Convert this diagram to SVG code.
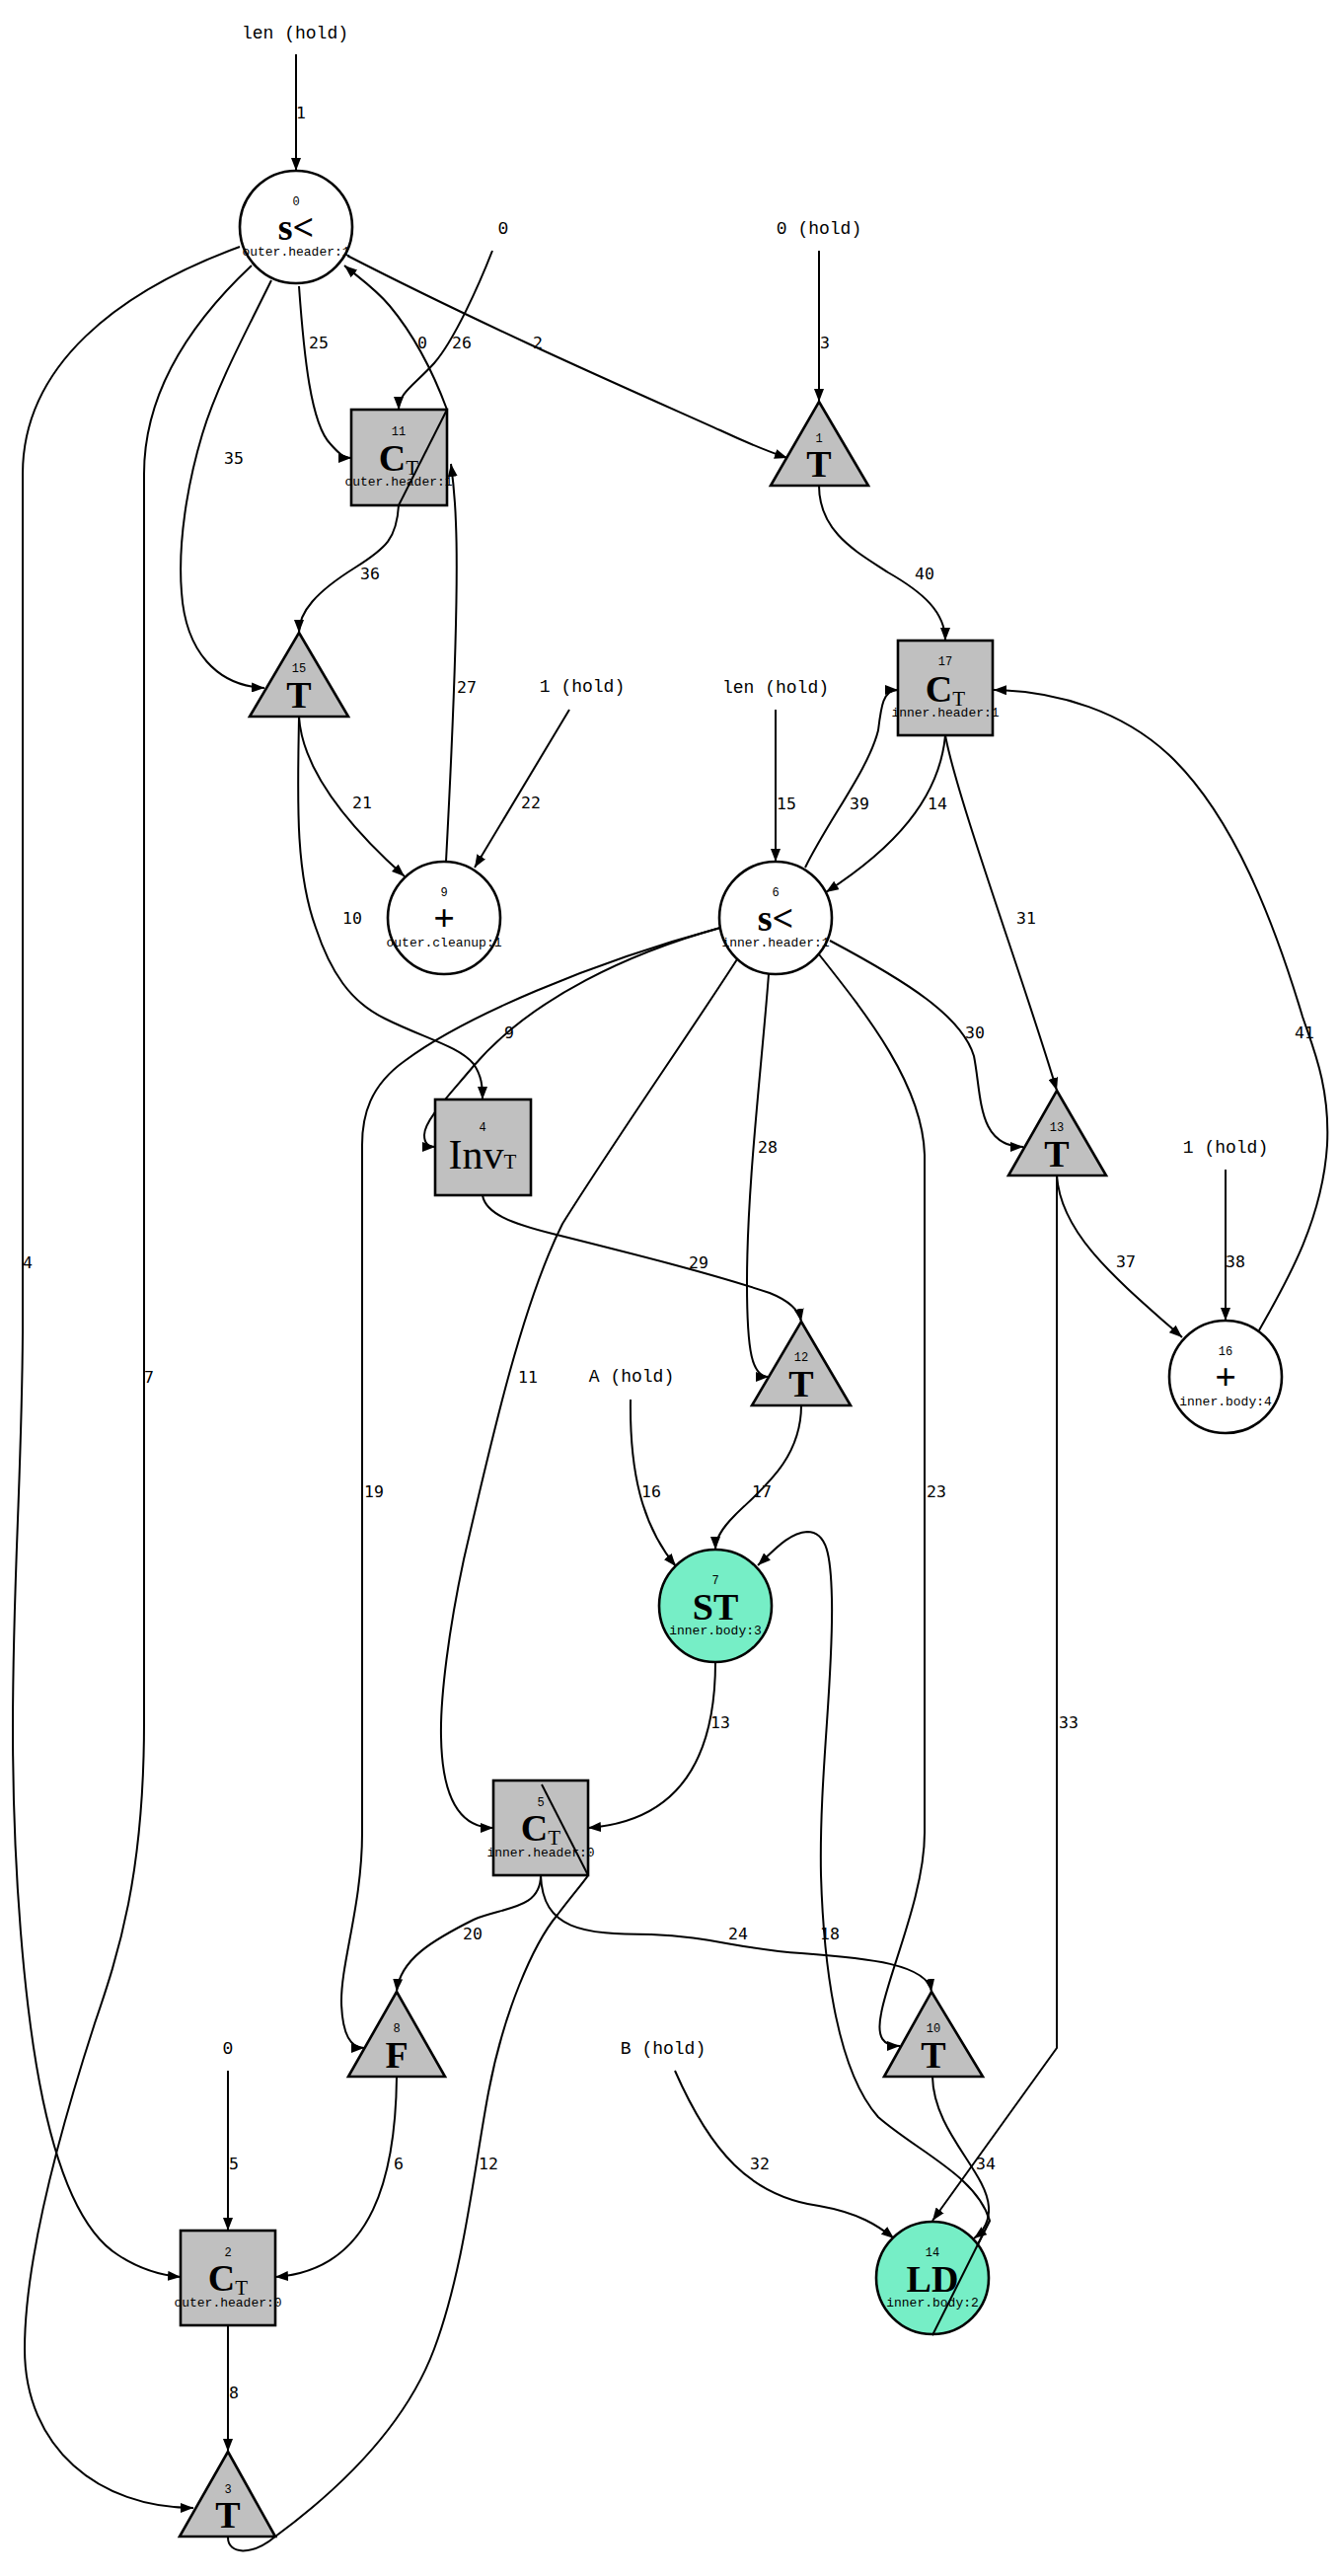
<svg xmlns="http://www.w3.org/2000/svg" width="1358" height="2610" viewBox="0 0 1358 2610">
  <defs>
    <style>
      .nd { stroke: #000; stroke-width: 2.6; }
      .gray { fill: #c0c0c0; }
      .white { fill: #fff; }
      .teal { fill: #76eec6; }
      .e { fill: none; stroke: #000; stroke-width: 2; marker-end: url(#ah); }
      .idx { font-family: "Liberation Mono", monospace; font-size: 12px; text-anchor: middle; }
      .big { font-family: "Liberation Serif", "Liberation Mono", serif; font-size: 38px; font-weight: bold; text-anchor: middle; }
      .sub { font-family: "Liberation Mono", monospace; font-size: 13px; text-anchor: middle; }
      .ext { font-family: "Liberation Mono", monospace; font-size: 18px; text-anchor: middle; }
      .el { font-family: "DejaVu Sans Mono", monospace; font-size: 16.5px; text-anchor: middle; }
      .st { font-size: 21px; font-weight: normal; }
      .reg { font-weight: normal; }
    </style>
    <marker id="ah" viewBox="0 0 13 10" refX="13" refY="5" markerWidth="13" markerHeight="10" markerUnits="userSpaceOnUse" orient="auto">
      <path d="M0,0 L13,5 L0,10 z" fill="#000"/>
    </marker>
  </defs>
  <rect width="1358" height="2610" fill="#fff"/>

  <!-- connectors -->
  <g id="edges">
    <path id="e1" class="e" d="M300,55 L300,173"/>
    <path id="e3" class="e" d="M830,254 L830,407"/>
    <path id="e2" class="e" d="M352,259 C500,335 650,400 730,436 C760,450 780,458 798,464"/>
    <path id="e26" class="e" d="M499,254 C485,290 460,345 440,368 C420,390 404,398 404,415"/>
    <path id="e25" class="e" d="M303,290 C308,360 315,430 335,450 C342,458 348,464 356,464"/>
    <path id="e0" class="e" d="M453,415 C440,380 420,340 395,310 C380,292 362,280 349,269"/>
    <path id="e36" class="e" d="M453,415 L404,512 C402,545 392,555 360,575 C320,600 303,620 303,641"/>
    <path id="e35" class="e" d="M275,284 C250,335 220,390 205,440 C190,490 180,550 184,600 C188,660 220,695 268,697"/>
    <path id="e4" class="e" d="M243,250 C120,295 23,370 23,480 L23,1350 C22,1500 13,1600 13,1750 C13,1900 25,2030 40,2110 C55,2190 80,2260 120,2285 C140,2298 160,2305 183,2307"/>
    <path id="e7" class="e" d="M255,269 C190,330 146,400 146,480 L146,1745 C146,1900 120,1980 96,2050 C70,2130 25,2280 25,2380 C25,2480 100,2541 196,2541"/>
    <path id="e21" class="e" d="M303,726 C306,775 345,830 410,888"/>
    <path id="e10" class="e" d="M303,726 C302,800 298,880 320,940 C335,985 355,1015 390,1032 C430,1052 465,1060 480,1078 C488,1090 489,1100 489,1114"/>
    <path id="e22" class="e" d="M577,719 L481,879"/>
    <path id="e27" class="e" d="M452,873 C458,760 465,600 462,530 C461,500 459,485 457,470"/>
    <path id="e40" class="e" d="M830,492 C830,540 870,560 900,580 C935,600 958,620 958,649"/>
    <path id="e15" class="e" d="M786,719 L786,873"/>
    <path id="e39" class="e" d="M816,879 C840,830 880,780 890,740 C893,715 895,699 910,699"/>
    <path id="e14" class="e" d="M958,745 C952,810 905,860 837,904"/>
    <path id="e31" class="e" d="M958,745 C970,810 1040,1000 1071,1105"/>
    <path id="e30" class="e" d="M841,953 C920,995 975,1030 987,1070 C995,1110 990,1162 1037,1162"/>
    <path id="e41" class="e" d="M1276,1348 C1300,1305 1340,1240 1345,1160 C1348,1100 1330,1060 1320,1030 C1290,930 1250,830 1190,770 C1140,720 1070,700 1007,699"/>
    <path id="e38" class="e" d="M1242,1185 L1242,1338"/>
    <path id="e37" class="e" d="M1071,1191 C1075,1250 1130,1295 1198,1355"/>
    <path id="e33" class="e" d="M1071,1191 L1071,2075 L945,2250"/>
    <path id="e19" class="e" d="M730,940 C600,975 470,1030 410,1075 C375,1100 367,1130 367,1160 L367,1857 C367,1930 345,1990 346,2030 C347,2060 354,2075 369,2075"/>
    <path id="e9" class="e" d="M730,940 C640,965 540,1010 480,1080 C455,1110 430,1135 430,1150 C430,1158 433,1162 441,1162"/>
    <path id="e28" class="e" d="M779,987 C772,1080 757,1200 757,1300 C757,1370 762,1395 779,1395"/>
    <path id="e29" class="e" d="M489,1211 C492,1230 520,1240 560,1250 C640,1270 720,1290 780,1310 C800,1318 810,1328 812,1339"/>
    <path id="e11" class="e" d="M747,972 C700,1045 620,1160 570,1240 C530,1320 500,1450 470,1580 C455,1650 446,1720 447,1760 C448,1820 465,1852 500,1852"/>
    <path id="e23" class="e" d="M830,967 C880,1030 935,1100 937,1170 L937,1857 C937,1920 900,2000 893,2040 C888,2065 895,2073 912,2073"/>
    <path id="e16" class="e" d="M639,1418 C638,1490 650,1545 685,1587"/>
    <path id="e17" class="e" d="M812,1424 C812,1480 770,1510 745,1535 C730,1550 725,1560 725,1570"/>
    <path id="e18" class="e" d="M945,2366 L1003,2250 C990,2205 930,2180 890,2145 C850,2100 835,2000 832,1900 C830,1800 845,1700 843,1620 C842,1575 838,1552 818,1552 C800,1553 785,1570 768,1586"/>
    <path id="e13" class="e" d="M725,1684 C725,1780 690,1845 596,1852"/>
    <path id="e12" class="e" d="M231,2571 C231,2588 255,2590 279,2570 C340,2525 410,2460 440,2380 C470,2300 480,2200 495,2120 C510,2040 540,1970 565,1940 C580,1920 594,1904 596,1900 L547,1804"/>
    <path id="e20" class="e" d="M548,1900 C548,1935 510,1932 480,1945 C440,1965 405,1985 402,2018"/>
    <path id="e24" class="e" d="M548,1900 C550,1955 590,1960 660,1960 C720,1962 750,1975 812,1979 C880,1984 940,1990 944,2018"/>
    <path id="e5" class="e" d="M231,2098 L231,2260"/>
    <path id="e6" class="e" d="M402,2104 C401,2200 380,2300 279,2307"/>
    <path id="e8" class="e" d="M231,2356 L231,2484"/>
    <path id="e32" class="e" d="M684,2098 C720,2180 760,2225 830,2235 C870,2242 890,2255 906,2268"/>
    <path id="e34" class="e" d="M945,2104 C946,2160 1000,2200 1002,2236 C1003,2252 995,2262 987,2268"/>
  </g>

  <!-- connector labels -->
  <g id="edge-labels" class="el">
    <text x="305" y="120">1</text>
    <text x="323" y="353">25</text>
    <text x="428" y="353">0</text>
    <text x="468" y="353">26</text>
    <text x="545" y="353">2</text>
    <text x="836" y="353">3</text>
    <text x="237" y="470">35</text>
    <text x="375" y="587">36</text>
    <text x="937" y="587">40</text>
    <text x="473" y="702">27</text>
    <text x="538" y="819">22</text>
    <text x="367" y="819">21</text>
    <text x="797" y="820">15</text>
    <text x="871" y="820">39</text>
    <text x="950" y="820">14</text>
    <text x="357" y="936">10</text>
    <text x="1040" y="936">31</text>
    <text x="516" y="1052">9</text>
    <text x="988" y="1052">30</text>
    <text x="1322" y="1052">41</text>
    <text x="778" y="1168">28</text>
    <text x="708" y="1285">29</text>
    <text x="1141" y="1284">37</text>
    <text x="1252" y="1284">38</text>
    <text x="28" y="1285">4</text>
    <text x="151" y="1401">7</text>
    <text x="535" y="1401">11</text>
    <text x="379" y="1517">19</text>
    <text x="660" y="1517">16</text>
    <text x="772" y="1517">17</text>
    <text x="949" y="1517">23</text>
    <text x="730" y="1751">13</text>
    <text x="1083" y="1751">33</text>
    <text x="479" y="1965">20</text>
    <text x="748" y="1965">24</text>
    <text x="841" y="1965">18</text>
    <text x="237" y="2198">5</text>
    <text x="404" y="2198">6</text>
    <text x="495" y="2198">12</text>
    <text x="770" y="2198">32</text>
    <text x="999" y="2198">34</text>
    <text x="237" y="2430">8</text>
  </g>

  <!-- input values -->
  <g id="in-len-a"><text class="ext" x="299" y="39">len (hold)</text></g>
  <g id="in-zero-a"><text class="ext" x="510" y="237">0</text></g>
  <g id="in-zero-hold"><text class="ext" x="830" y="237">0 (hold)</text></g>
  <g id="in-one-a"><text class="ext" x="590" y="701">1 (hold)</text></g>
  <g id="in-len-b"><text class="ext" x="786" y="702">len (hold)</text></g>
  <g id="in-one-b"><text class="ext" x="1242" y="1168">1 (hold)</text></g>
  <g id="in-A"><text class="ext" x="640" y="1400">A (hold)</text></g>
  <g id="in-zero-b"><text class="ext" x="231" y="2081">0</text></g>
  <g id="in-B"><text class="ext" x="672" y="2081">B (hold)</text></g>

  <!-- operation nodes -->
  <g id="n0">
    <circle class="nd white" cx="300" cy="230" r="57"/>
    <text class="idx" x="300" y="208">0</text>
    <text class="big" x="300" y="243">s&lt;</text>
    <text class="sub" x="300" y="259">outer.header:1</text>
  </g>
  <g id="n1">
    <polygon class="nd gray" points="830,407 880,492 781,492"/>
    <text class="idx" x="830" y="448">1</text>
    <text class="big" x="830" y="483">T</text>
  </g>
  <g id="n2">
    <rect class="nd gray" x="183" y="2260" width="96" height="96"/>
    <text class="idx" x="231" y="2286">2</text>
    <text class="big" x="231" y="2321">C<tspan class="st" dy="4">T</tspan></text>
    <text class="sub" x="231" y="2337">outer.header:0</text>
  </g>
  <g id="n3">
    <polygon class="nd gray" points="231,2484 279,2570 182,2570"/>
    <text class="idx" x="231" y="2526">3</text>
    <text class="big" x="231" y="2561">T</text>
  </g>
  <g id="n4">
    <rect class="nd gray" x="441" y="1114" width="97" height="97"/>
    <text class="idx" x="489" y="1146">4</text>
    <text class="big reg" x="489" y="1184" style="font-size:42px">Inv<tspan class="st">T</tspan></text>
  </g>
  <g id="n5">
    <rect class="nd gray" x="500" y="1804" width="96" height="96"/>
    <text class="idx" x="548" y="1830">5</text>
    <text class="big" x="548" y="1865">C<tspan class="st" dy="4">T</tspan></text>
    <text class="sub" x="548" y="1881">inner.header:0</text>
  </g>
  <g id="n6">
    <circle class="nd white" cx="786" cy="930" r="57"/>
    <text class="idx" x="786" y="908">6</text>
    <text class="big" x="786" y="943">s&lt;</text>
    <text class="sub" x="786" y="959">inner.header:1</text>
  </g>
  <g id="n7">
    <circle class="nd teal" cx="725" cy="1627" r="57"/>
    <text class="idx" x="725" y="1605">7</text>
    <text class="big" x="725" y="1641">ST</text>
    <text class="sub" x="725" y="1656">inner.body:3</text>
  </g>
  <g id="n8">
    <polygon class="nd gray" points="402,2018 451,2104 353,2104"/>
    <text class="idx" x="402" y="2059">8</text>
    <text class="big" x="402" y="2095">F</text>
  </g>
  <g id="n9">
    <circle class="nd white" cx="450" cy="930" r="57"/>
    <text class="idx" x="450" y="908">9</text>
    <text class="big" x="450" y="943">+</text>
    <text class="sub" x="450" y="959">outer.cleanup:1</text>
  </g>
  <g id="n10">
    <polygon class="nd gray" points="944,2018 996,2104 896,2104"/>
    <text class="idx" x="946" y="2059">10</text>
    <text class="big" x="946" y="2095">T</text>
  </g>
  <g id="n11">
    <rect class="nd gray" x="356" y="415" width="97" height="97"/>
    <text class="idx" x="404" y="441">11</text>
    <text class="big" x="404" y="477">C<tspan class="st" dy="4">T</tspan></text>
    <text class="sub" x="404" y="492">outer.header:1</text>
  </g>
  <g id="n12">
    <polygon class="nd gray" points="812,1339 862,1424 762,1424"/>
    <text class="idx" x="812" y="1379">12</text>
    <text class="big" x="812" y="1415">T</text>
  </g>
  <g id="n13">
    <polygon class="nd gray" points="1071,1105 1121,1191 1022,1191"/>
    <text class="idx" x="1071" y="1146">13</text>
    <text class="big" x="1071" y="1182">T</text>
  </g>
  <g id="n14">
    <circle class="nd teal" cx="945" cy="2308" r="57"/>
    <text class="idx" x="945" y="2286">14</text>
    <text class="big" x="945" y="2322">LD</text>
    <text class="sub" x="945" y="2337">inner.body:2</text>
  </g>
  <g id="n15">
    <polygon class="nd gray" points="303,641 353,726 253,726"/>
    <text class="idx" x="303" y="681">15</text>
    <text class="big" x="303" y="717">T</text>
  </g>
  <g id="n16">
    <circle class="nd white" cx="1242" cy="1395" r="57"/>
    <text class="idx" x="1242" y="1373">16</text>
    <text class="big" x="1242" y="1408">+</text>
    <text class="sub" x="1242" y="1424">inner.body:4</text>
  </g>
  <g id="n17">
    <rect class="nd gray" x="910" y="649" width="96" height="96"/>
    <text class="idx" x="958" y="674">17</text>
    <text class="big" x="958" y="711">C<tspan class="st" dy="4">T</tspan></text>
    <text class="sub" x="958" y="726">inner.header:1</text>
  </g>

  <!-- strokes that cross over node bodies -->
  <g id="overlays" fill="none" stroke="#000" stroke-width="2">
    <path d="M453,415 L404,512"/>
    <path d="M596,1900 L549,1808"/>
    <path d="M945,2366 L1003,2250"/>
  </g>
</svg>
